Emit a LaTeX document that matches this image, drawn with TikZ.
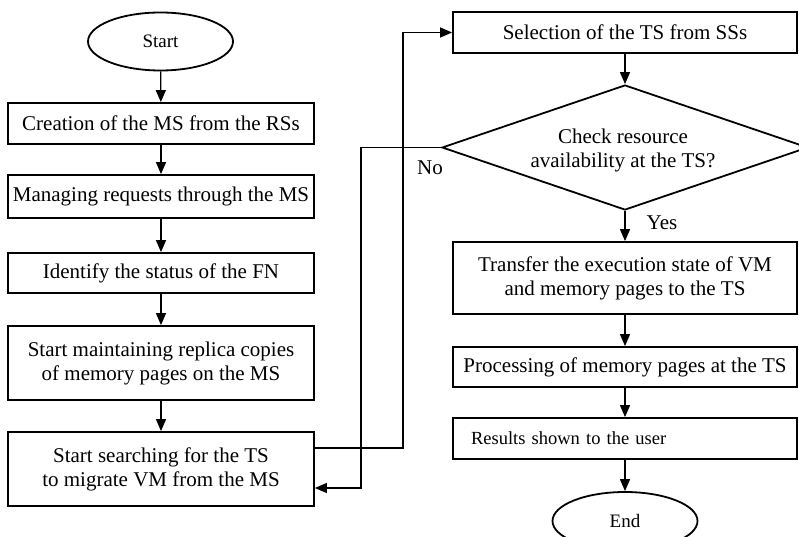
\documentclass[tikz,border=0pt]{standalone}
\usepackage{fontspec}
\setmainfont{Liberation Serif}
\usetikzlibrary{shapes.geometric,arrows.meta}
\begin{document}
\begin{tikzpicture}[x=1pt,y=-1pt,
  box/.style={draw,line width=1.8pt,rectangle,inner sep=0pt,align=center,font=\fontsize{21}{24}\selectfont},
  lbox/.style={box,minimum width=306pt},
  rbox/.style={box,minimum width=344pt},
  term/.style={draw,line width=1.8pt,ellipse,inner sep=0pt,minimum width=145pt,minimum height=58pt,font=\fontsize{19}{22}\selectfont},
  conn/.style={line width=1.3pt,-{Triangle[length=12pt,width=10pt]}},
  lab/.style={font=\fontsize{21}{24}\selectfont}]
\useasboundingbox (0,0) rectangle (799,537);

% left column
\node[term] (start) at (160.5,41.5) {Start};
\node[lbox,minimum height=41pt] (b1) at (161,123.5) {Creation of the MS from the RSs};
\node[lbox,minimum height=43pt] (b2) at (161,196.5) {Managing requests through the MS};
\node[lbox,minimum height=40pt] (b3) at (161,273) {Identify the status of the FN};
\node[lbox,minimum height=74pt] (b4) at (161,363) {Start maintaining replica copies\\of memory pages on the MS};
\node[lbox,minimum height=74pt] (b5) at (161,469) {Start searching for the TS\\to migrate VM from the MS};

% right column
\node[rbox,minimum height=41pt] (sel) at (625,32.5) {Selection of the TS from SSs};
\node[draw,diamond,line width=1.8pt,minimum width=366pt,minimum height=125pt,inner sep=0pt] (dec) at (625,147.5) {};
\node[lab,align=center] (dectext) at (623,150) {Check resource\\availability at the TS?};
\node[rbox,minimum height=72pt] (tr) at (625,278) {Transfer the execution state of VM\\and memory pages to the TS};
\node[rbox,minimum height=40pt] (proc) at (625,367) {Processing of memory pages at the TS};
\node[box,minimum height=41pt,text width=308pt,inner xsep=18pt,align=left,font=\fontsize{18.5}{22}\selectfont] (res) at (625,438.5) {Results shown to the user};
\node[term] (end) at (625,521) {End};

\node[lab] (yes) at (662,223) {Yes};
\node[lab] (no) at (430,168) {No};

% connectors
\draw[conn] (start) -- (b1);
\draw[conn] (b1) -- (b2);
\draw[conn] (b2) -- (b3);
\draw[conn] (b3) -- (b4);
\draw[conn] (b4) -- (b5);
\draw[conn] ([yshift=21pt]b5.east) -- ++(88,0) |- (sel.west);
\draw[conn] (sel) -- (dec.north);
\draw[conn] (dec.south) -- (tr.north);
\draw[conn] (dec.west) -- ++(-80,0) |- ([yshift=-19pt]b5.east);
\draw[conn] (tr) -- (proc);
\draw[conn] (proc) -- (res);
\draw[conn] (res) -- (end);
\end{tikzpicture}
\end{document}
